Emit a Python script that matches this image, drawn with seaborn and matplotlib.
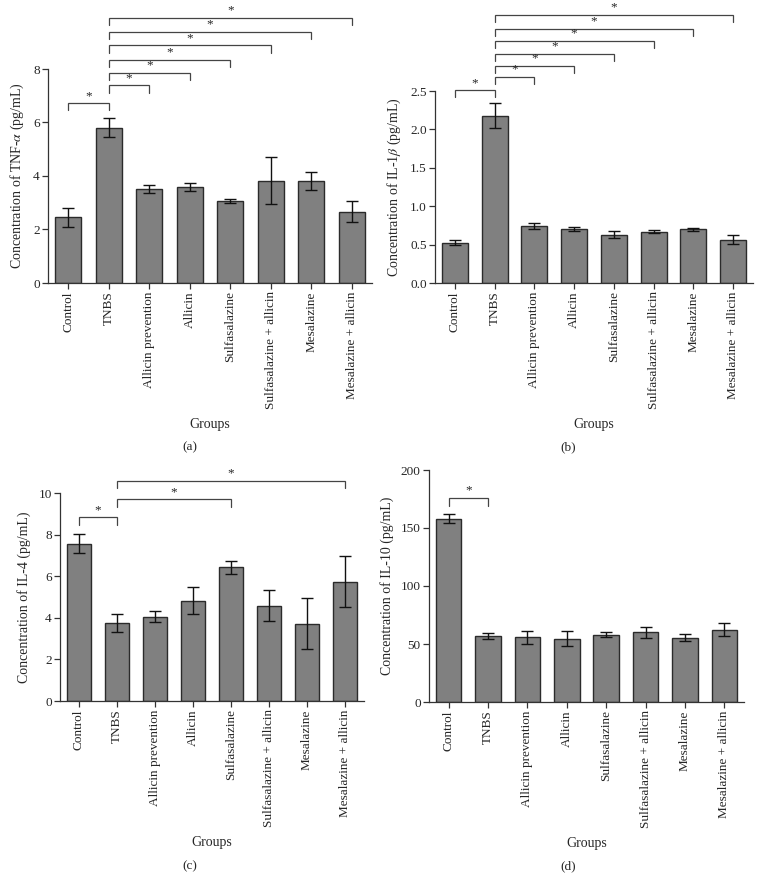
import matplotlib
matplotlib.use("Agg")
import matplotlib.pyplot as plt
import seaborn as sns
import pandas as pd
import numpy as np

groups = ["Control", "TNBS", "Allicin prevention", "Allicin", "Sulfasalazine",
          "Sulfasalazine + allicin", "Mesalazine", "Mesalazine + allicin"]

tnf_mean = [2.45, 5.81, 3.52, 3.60, 3.07, 3.83, 3.81, 2.66]
tnf_err = [0.34, 0.34, 0.14, 0.15, 0.08, 0.87, 0.34, 0.39]
tnf_pairs = [(0, 1), (1, 2), (1, 3), (1, 4), (1, 5), (1, 6), (1, 7)]
tnf_heights = [6.72, 7.39, 7.86, 8.34, 8.88, 9.40, 9.92]

il1_mean = [0.525, 2.18, 0.743, 0.70, 0.626, 0.67, 0.70, 0.565]
il1_err = [0.03, 0.165, 0.04, 0.025, 0.045, 0.025, 0.02, 0.06]
il1_pairs = [(0, 1), (1, 2), (1, 3), (1, 4), (1, 5), (1, 6), (1, 7)]
il1_heights = [2.51, 2.68, 2.83, 2.98, 3.15, 3.31, 3.49]

il4_mean = [7.57, 3.73, 4.05, 4.82, 6.42, 4.59, 3.71, 5.74]
il4_err = [0.44, 0.43, 0.27, 0.64, 0.33, 0.76, 1.22, 1.22]
il4_pairs = [(0, 1), (1, 4), (1, 7)]
il4_heights = [8.83, 9.70, 10.59]

il10_mean = [158.0, 56.7, 55.8, 54.7, 58.1, 60.1, 55.5, 62.4]
il10_err = [3.9, 2.4, 5.6, 6.7, 2.3, 4.9, 3.3, 5.9]
il10_pairs = [(0, 1)]
il10_heights = [176.0]

sns.set_theme(style="ticks")
plt.rcParams["font.family"] = ["Liberation Serif", "DejaVu Serif"]
plt.rcParams["mathtext.fontset"] = "stix"

W, H = 763, 880
fig = plt.figure(figsize=(W / 100, H / 100), dpi=100)


def make_axes(left, right, top, bottom):
    return fig.add_axes([left / W, 1 - bottom / H, (right - left) / W, (bottom - top) / H])


panels = [
    dict(box=(48, 372, 69, 283), mean=tnf_mean, err=tnf_err, pairs=tnf_pairs, heights=tnf_heights,
         ylim=8, yticks=[0, 2, 4, 6, 8], fmt="{:g}", drop=0.27,
         ylabel=r"Concentration of TNF-$\alpha$ (pg/mL)", tag="(a)", tagx=190, tagy=447),
    dict(box=(435, 753, 91, 283), mean=il1_mean, err=il1_err, pairs=il1_pairs, heights=il1_heights,
         ylim=2.5, yticks=[0, 0.5, 1.0, 1.5, 2.0, 2.5], fmt="{:.1f}", drop=0.09,
         ylabel=r"Concentration of IL-1$\beta$ (pg/mL)", tag="(b)", tagx=568, tagy=447),
    dict(box=(60, 364, 493, 701), mean=il4_mean, err=il4_err, pairs=il4_pairs, heights=il4_heights,
         ylim=10, yticks=[0, 2, 4, 6, 8, 10], fmt="{:g}", drop=0.35,
         ylabel="Concentration of IL-4 (pg/mL)", tag="(c)", tagx=190, tagy=866),
    dict(box=(429, 744, 470, 702), mean=il10_mean, err=il10_err, pairs=il10_pairs, heights=il10_heights,
         ylim=200, yticks=[0, 50, 100, 150, 200], fmt="{:g}", drop=7,
         ylabel="Concentration of IL-10 (pg/mL)", tag="(d)", tagx=568, tagy=866),
]

fs = 9.5
for p in panels:
    l, r, t, b = p["box"]
    ax = make_axes(l, r, t, b)
    df = pd.DataFrame({"group": groups, "value": p["mean"]})
    sns.barplot(data=df, x="group", y="value", color="#808080", saturation=1,
                width=0.65, edgecolor="#2b2b2b", linewidth=1.0, errorbar=None, ax=ax)
    ax.errorbar(np.arange(len(groups)), p["mean"], yerr=p["err"], fmt="none",
                ecolor="#111111", elinewidth=1.0, capsize=4.5, capthick=1.0, zorder=3)
    ax.set_xlim(-0.5, len(groups) - 0.5)
    ax.set_ylim(0, p["ylim"])
    ax.set_yticks(p["yticks"])
    ax.set_yticklabels([p["fmt"].format(v) for v in p["yticks"]], fontsize=fs)
    ax.set_xticks(range(len(groups)))
    ax.set_xticklabels(groups, rotation=90, fontsize=fs)
    ax.tick_params(axis="both", direction="out", length=4, width=0.9, color="#333333", pad=2)
    for s in ["top", "right"]:
        ax.spines[s].set_visible(False)
    for s in ["left", "bottom"]:
        ax.spines[s].set_linewidth(0.9)
        ax.spines[s].set_color("#333333")
    ax.set_ylabel(p["ylabel"], fontsize=fs + 0.5, labelpad=5)
    ax.set_xlabel("Groups", fontsize=fs + 0.5, labelpad=6)
    d = p["drop"]
    for (i, j), h in zip(p["pairs"], p["heights"]):
        ax.plot([i, i, j, j], [h - d, h, h, h - d], color="#444444", lw=0.9,
                clip_on=False, solid_joinstyle="miter")
        ax.annotate("*", xy=((i + j) / 2, h), xytext=(0, 1.0), textcoords="offset points",
                    ha="center", va="bottom", fontsize=fs, annotation_clip=False)
    fig.text(p["tagx"] / W, 1 - p["tagy"] / H, p["tag"], ha="center", va="center", fontsize=fs)

fig.savefig("out.png", dpi=100)
